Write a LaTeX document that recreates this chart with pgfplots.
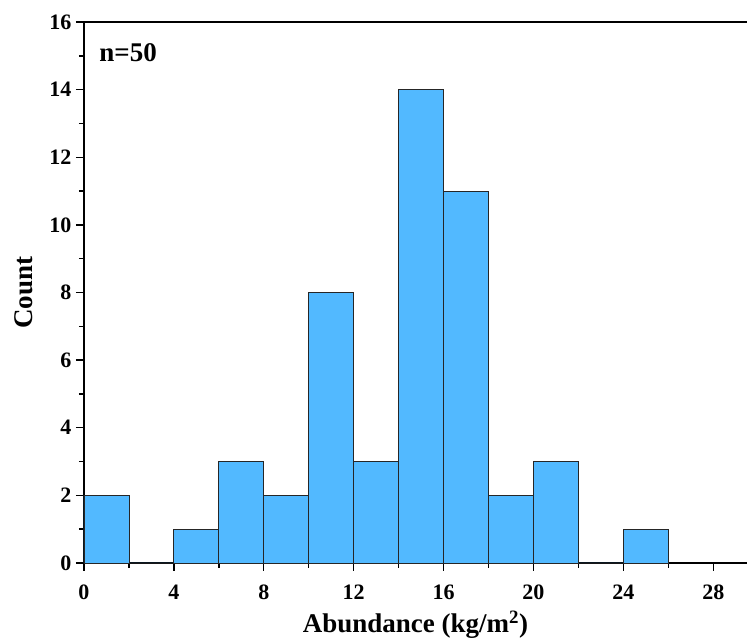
\documentclass[border=0pt]{standalone}
\usepackage{fontspec}
\setmainfont{Liberation Serif}
\usepackage{pgfplots}
\pgfplotsset{compat=1.18}
\definecolor{barblue}{HTML}{52B9FF}
\begin{document}
\begin{tikzpicture}
\useasboundingbox (-84pt,-76pt) rectangle (663pt,563pt);
\begin{axis}[
  scale only axis, width=663pt, height=541pt,
  xmin=0, xmax=29.5, ymin=0, ymax=16,
  axis lines=left,
  axis line style={-, line width=1.6pt},
  tick align=outside,
  tick style={line width=1.4pt, black},
  major tick length=8pt, minor tick length=5pt,
  xtick={0,4,...,28}, minor xtick={2,6,...,26},
  ytick={0,2,...,16}, minor ytick={1,3,...,15},
  /pgf/number format/assume math mode=true,
  ticklabel style={font=\fontsize{22}{22}\selectfont\bfseries},
  xticklabel style={yshift=-10pt},
  yticklabel style={xshift=-1pt},
  xlabel={Abundance (kg/m\textsuperscript{2})},
  ylabel={Count},
  label style={font=\fontsize{27}{27}\selectfont\bfseries},
  xlabel style={yshift=-5pt},
  ylabel style={yshift=10pt},
  clip=false,
]
\addplot[ybar interval, fill=barblue, draw=black!85, line width=0.8pt]
  coordinates {(0,2) (2,0) (4,1) (6,3) (8,2) (10,8) (12,3) (14,14) (16,11) (18,2) (20,3) (22,0) (24,1) (26,1)};
\draw[line width=1.6pt] (rel axis cs:0,1) -- (rel axis cs:1,1);
\node[anchor=west, font=\fontsize{27}{27}\selectfont\bfseries] at (rel axis cs:0.018,0.943) {n=50};
\end{axis}
\end{tikzpicture}
\end{document}
